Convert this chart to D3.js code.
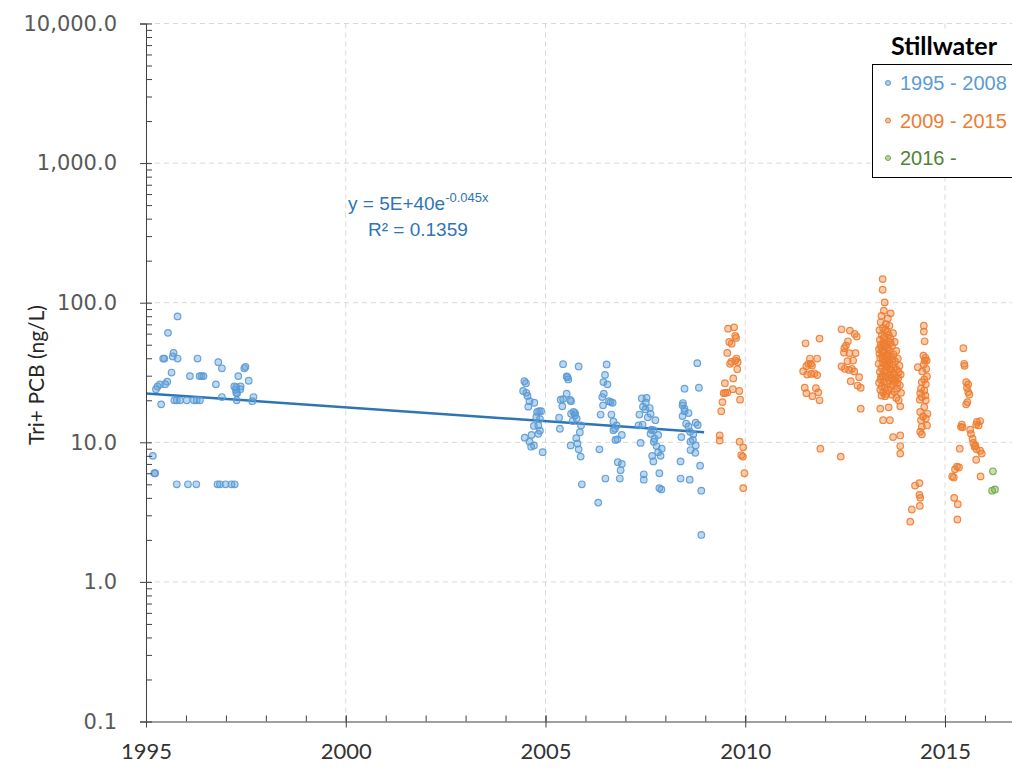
<!DOCTYPE html>
<html>
<head>
<meta charset="utf-8">
<script src="https://cdn.jsdelivr.net/npm/d3@7.9.0/dist/d3.min.js"></script>
<style>
  html, body { margin: 0; padding: 0; background: #fff; }
  svg { display: block; }
</style>
</head>
<body>
<svg id="chart" width="1012" height="774"></svg>
<script>
// Stillwater Tri+ PCB samples, [year, ng/L]
const early = [
  [1995.79,79.8],[1995.55,60.8],[1995.69,43.7],[1995.67,41.2],[1995.79,39.8],[1995.43,39.8],[1995.46,39.8],
  [1996.29,39.8],[1996.81,37.5],[1996.90,33.9],[1997.49,34.7],[1997.46,33.9],[1995.64,31.6],[1996.10,29.8],
  [1996.34,29.8],[1996.39,29.8],[1996.44,29.8],[1997.31,29.8],[1997.57,27.6],[1995.53,27.2],[1995.48,26.1],
  [1995.35,26.0],[1995.29,25.1],[1995.25,24.0],[1996.75,26.0],[1997.21,25.1],[1997.26,24.8],[1997.37,25.1],
  [1997.25,23.8],[1997.36,24.0],[1997.26,22.6],[1997.28,22.5],[1996.90,21.1],[1997.69,21.1],[1995.71,20.0],
  [1995.77,20.0],[1995.85,20.0],[1996.02,20.0],[1996.20,20.0],[1996.27,20.0],[1996.35,20.0],[1997.27,20.0],
  [1997.66,19.7],[1995.38,18.7],[1995.17,8.0],[1995.21,6.0],[1995.23,6.0],
  [1995.77,5.0],[1996.05,5.0],[1996.26,5.0],[1996.79,5.0],[1996.85,5.0],[1996.99,5.0],[1997.14,5.0],[1997.22,5.0],
  // 2004 - 2008
  [2004.47,27.4],[2004.51,26.5],[2004.44,23.3],[2004.52,22.6],[2004.55,21.5],[2004.60,19.7],[2004.72,19.2],
  [2004.57,18.0],[2004.79,16.5],[2004.84,16.7],[2004.89,16.7],[2004.77,15.2],[2004.71,13.1],[2004.86,14.7],
  [2004.82,13.2],[2004.86,12.1],[2004.82,11.5],[2004.48,10.8],[2004.60,10.1],[2004.64,9.3],[2004.71,9.5],
  [2004.93,8.5],[2004.65,11.3],
  [2005.44,36.3],[2005.53,29.6],[2005.57,28.2],[2005.55,29.3],[2005.83,34.9],[2005.53,22.3],[2005.44,20.4],
  [2005.38,20.2],[2005.62,20.1],[2005.64,19.7],[2005.42,18.1],[2005.70,16.5],[2005.74,16.2],[2005.64,16.0],
  [2005.78,14.8],[2005.74,15.6],[2005.68,14.2],[2005.89,13.2],[2005.34,15.0],[2005.36,12.5],[2005.86,11.8],
  [2005.77,10.7],[2005.80,9.8],[2005.63,9.5],[2005.83,8.9],[2005.88,7.9],[2005.91,5.0],
  [2006.53,36.1],[2006.49,30.4],[2006.45,27.0],[2006.55,26.0],[2006.46,22.3],[2006.42,21.1],[2006.59,19.7],
  [2006.63,19.4],[2006.68,19.2],[2006.44,18.4],[2006.38,15.8],[2006.65,15.8],[2006.70,14.1],[2006.78,13.2],
  [2006.74,12.5],[2006.70,12.2],[2006.91,11.3],[2006.80,10.5],[2006.75,10.4],[2006.35,8.9],[2006.81,7.2],
  [2006.91,7.0],[2006.88,6.3],[2006.86,5.5],[2006.50,5.5],[2006.32,3.7],
  [2007.41,20.6],[2007.53,20.8],[2007.44,18.0],[2007.51,19.3],[2007.61,17.6],[2007.50,17.2],[2007.56,15.1],
  [2007.63,16.0],[2007.35,15.8],[2007.75,14.4],[2007.33,13.2],[2007.43,13.4],[2007.65,12.3],[2007.70,12.2],
  [2007.63,11.5],[2007.82,11.3],[2007.73,10.6],[2007.71,10.1],[2007.38,9.9],[2007.78,9.4],[2007.91,9.0],
  [2007.82,8.5],[2007.88,8.0],[2007.67,8.0],[2007.70,7.3],[2007.46,5.9],[2007.46,5.4],[2007.85,6.0],
  [2007.85,4.7],[2007.90,4.6],
  [2008.48,24.2],[2008.44,19.1],[2008.43,18.4],[2008.48,17.4],[2008.48,16.7],[2008.58,16.2],[2008.43,15.4],
  [2008.52,13.6],[2008.58,13.0],[2008.62,11.9],[2008.70,11.4],[2008.76,13.8],[2008.81,13.3],[2008.69,10.4],
  [2008.63,10.1],[2008.76,9.5],[2008.63,8.8],[2008.75,8.4],[2008.40,10.9],[2008.80,36.9],[2008.84,24.6],
  [2008.38,7.3],[2008.87,6.8],[2008.38,5.5],[2008.61,5.4],[2008.90,4.5],[2008.90,2.17]
];

const middle = [
  [2009.57,65.2],[2009.72,66.6],[2009.75,57.8],[2009.77,55.9],[2009.60,52.4],[2009.66,50.9],[2009.55,43.7],
  [2009.78,39.8],[2009.65,37.7],[2009.62,36.5],[2009.75,38.5],[2009.81,37.5],[2009.80,33.4],[2009.70,28.7],
  [2009.49,26.5],[2009.50,22.6],[2009.46,22.5],[2009.55,22.7],[2009.69,24.0],[2009.85,23.3],[2009.87,20.2],
  [2009.43,19.4],[2009.40,16.7],[2009.36,11.2],[2009.36,10.3],[2009.86,10.1],[2009.95,9.2],[2009.90,8.1],
  [2009.94,7.9],[2009.98,6.0],[2009.95,4.7],
  [2011.51,51.2],[2011.86,55.3],[2011.62,39.8],[2011.80,39.8],[2011.58,36.5],[2011.53,35.1],[2011.64,36.5],
  [2011.67,35.5],[2011.45,32.3],[2011.55,30.6],[2011.65,30.9],[2011.73,31.2],[2011.80,30.3],[2011.49,24.6],
  [2011.77,24.4],[2011.53,22.5],[2011.83,22.8],[2011.68,21.4],[2011.86,20.0],[2011.88,9.0],
  [2012.41,64.5],[2012.62,63.1],[2012.74,59.7],[2012.79,57.2],[2012.57,52.9],[2012.52,49.3],[2012.48,47.2],
  [2012.61,43.5],[2012.76,43.5],[2012.47,43.9],[2012.56,38.1],[2012.70,38.5],[2012.41,34.9],[2012.49,33.6],
  [2012.60,33.0],[2012.67,33.6],[2012.73,32.2],[2012.85,29.3],[2012.64,27.4],[2012.81,25.5],[2012.89,24.6],
  [2012.89,17.4],[2012.39,7.9],
  // summer 2013, dense sampling
  [2013.44,147.6],[2013.44,123.8],[2013.49,100.5],[2013.47,87.7],[2013.64,83.9],[2013.41,80.5],[2013.57,77.2],
  [2013.39,72.4],[2013.52,70.1],[2013.61,68.3],[2013.45,66.0],[2013.36,63.5],[2013.55,62.2],[2013.70,60.4],
  [2013.42,58.7],[2013.49,57.1],[2013.63,55.5],[2013.37,54.2],[2013.58,53.0],[2013.74,52.3],[2013.46,51.1],
  [2013.53,49.6],[2013.67,48.8],[2013.40,47.9],[2013.35,46.4],[2013.60,45.9],[2013.78,45.1],[2013.48,44.2],
  [2013.56,43.3],[2013.71,42.7],[2013.43,41.8],[2013.65,41.0],[2013.38,40.2],[2013.82,39.8],[2013.51,39.1],
  [2013.59,38.3],[2013.75,37.9],[2013.45,37.2],[2013.34,36.5],[2013.68,36.0],[2013.86,35.4],[2013.54,34.8],
  [2013.41,34.1],[2013.62,33.6],[2013.79,33.1],[2013.48,32.5],[2013.37,32.0],[2013.57,31.5],[2013.72,31.1],
  [2013.89,30.6],[2013.44,30.1],[2013.52,29.6],[2013.66,29.2],[2013.83,28.8],[2013.39,28.3],[2013.60,27.9],
  [2013.76,27.5],[2013.47,27.1],[2013.35,26.7],[2013.55,26.3],[2013.70,26.0],[2013.87,25.6],[2013.42,25.2],
  [2013.63,24.9],[2013.50,24.5],[2013.80,24.2],[2013.38,23.8],[2013.58,23.5],[2013.73,23.1],[2013.45,22.8],
  [2013.90,22.6],[2013.53,22.2],[2013.67,21.9],[2013.41,21.6],[2013.61,37.0],[2013.50,35.8],[2013.43,44.9],
  [2013.69,39.4],[2013.57,47.5],[2013.36,43.0],[2013.74,34.3],[2013.46,55.8],[2013.64,51.6],[2013.39,50.0],
  [2013.53,41.5],[2013.84,31.8],[2013.77,29.0],[2013.48,48.4],[2013.59,58.9],[2013.66,33.0],[2013.44,39.6],
  [2013.71,28.0],[2013.55,36.3],[2013.81,26.5],[2013.40,29.5],[2013.62,30.4],[2013.51,64.0],[2013.58,42.0],
  [2013.50,21.4],[2013.78,20.8],[2013.84,20.0],[2013.88,18.1],[2013.38,17.4],[2013.59,17.8],[2013.45,14.4],
  [2013.62,14.4],[2013.70,10.9],[2013.88,11.2],[2013.88,9.4],[2013.88,8.3],
  [2014.47,68.5],[2014.47,62.1],[2014.49,52.9],[2014.46,41.8],[2014.51,40.3],[2014.49,38.5],[2014.54,38.5],
  [2014.47,36.1],[2014.32,34.5],[2014.53,33.6],[2014.43,32.2],[2014.55,29.6],[2014.48,28.2],[2014.42,27.0],
  [2014.52,26.0],[2014.40,24.2],[2014.48,23.5],[2014.38,22.5],[2014.51,21.7],[2014.42,21.1],[2014.37,20.2],
  [2014.52,20.0],[2014.48,17.9],[2014.38,16.5],[2014.56,16.0],[2014.45,15.3],[2014.52,14.8],[2014.40,14.4],
  [2014.55,13.2],[2014.42,12.9],[2014.38,11.9],[2014.42,11.4],[2014.36,5.1],[2014.25,4.9],[2014.36,4.2],
  [2014.38,4.0],[2014.17,3.3],[2014.13,2.7],[2014.37,3.5],
  [2015.46,47.2],[2015.48,36.5],[2015.49,35.3],[2015.53,27.0],[2015.58,26.0],[2015.55,24.6],[2015.58,22.9],
  [2015.61,22.0],[2015.56,19.4],[2015.53,18.7],[2015.42,13.4],[2015.40,12.9],[2015.44,12.8],[2015.80,14.0],
  [2015.88,14.2],[2015.84,13.2],[2015.78,13.4],[2015.63,12.3],[2015.65,11.5],[2015.69,10.6],[2015.71,9.9],
  [2015.76,9.5],[2015.74,9.3],[2015.79,8.9],[2015.88,8.7],[2015.92,8.3],[2015.37,9.0],[2015.78,7.5],
  [2015.30,6.7],[2015.35,6.6],[2015.25,6.4],[2015.18,5.7],[2015.22,5.6],[2015.89,5.7],[2015.23,4.0],
  [2015.32,3.6],[2015.31,2.8]
];

const recent = [[2016.20,6.2],[2016.18,4.5],[2016.25,4.6]];

// exponential fit on 1995-2008, straight on the log axis
const trend = [[1995, 22.4], [2008.97, 11.8]];

const seriesNames = ['1995 - 2008', '2009 - 2015', '2016 -'];
const seriesColors = ['#5b9bd5', '#ed7d31', '#70ad47'];
const legendTextColors = ['#5b9bd5', '#ed7d31', '#548235'];

const yTicks = [0.1, 1, 10, 100, 1000, 10000];
const xTicks = [1995, 2000, 2005, 2010, 2015];
const xMinor = d3.range(1996, 2018);
const yMinor = [];
yTicks.slice(0, -1).forEach(t => { for (let k = 2; k <= 9; k++) yMinor.push(t * k); });

const svg = d3.select('#chart');
const x = d3.scaleLinear().domain([1995, 2017]).range([146, 146 + 22 * 39.95]);
const y = d3.scaleLog().domain([0.1, 10000]).range([721.5, 23.5]);

// gridlines
const grid = svg.append('g').attr('stroke', '#d9d9d9').attr('stroke-dasharray', '5,4').attr('stroke-width', 1);
xTicks.slice(1).forEach(t => {
  grid.append('line').attr('x1', x(t)).attr('x2', x(t)).attr('y1', y(0.1)).attr('y2', y(10000));
});
yTicks.slice(1).forEach(t => {
  grid.append('line').attr('x1', x(1995)).attr('x2', 1012).attr('y1', y(t)).attr('y2', y(t));
});

// trendline
svg.append('path')
  .datum(trend)
  .attr('fill', 'none')
  .attr('stroke', '#2e75b6')
  .attr('stroke-width', 2.5)
  .attr('d', d3.line().x(d => x(d[0])).y(d => y(d[1])));

// points
[early, middle, recent].forEach((pts, i) => {
  svg.append('g').selectAll('circle')
    .data(pts)
    .join('circle')
    .attr('cx', d => x(d[0]))
    .attr('cy', d => y(d[1]))
    .attr('r', 3.3)
    .attr('fill', seriesColors[i])
    .attr('fill-opacity', 0.4)
    .attr('stroke', seriesColors[i])
    .attr('stroke-opacity', 0.9)
    .attr('stroke-width', 1.2);
});

// y axis
const yAxis = svg.append('g').attr('transform', `translate(${x(1995)},0)`)
  .call(d3.axisLeft(y).tickValues(yTicks).tickFormat(d3.format(',.1f')).tickSize(6).tickPadding(23));
yAxis.select('.domain').attr('stroke', '#404040');
yAxis.selectAll('.tick line').attr('x2', 6).attr('x1', -6).attr('stroke', '#404040');
yAxis.selectAll('.tick text')
  .attr('font-family', '"DejaVu Sans", Verdana, sans-serif')
  .attr('font-size', 21)
  .attr('fill', '#595959');
svg.append('g').attr('transform', `translate(${x(1995)},0)`)
  .call(d3.axisRight(y).tickValues(yMinor).tickFormat('').tickSize(6))
  .call(g => g.select('.domain').remove())
  .selectAll('.tick line').attr('stroke', '#404040');

// x axis
const xAxis = svg.append('g').attr('transform', `translate(0,${y(0.1)})`)
  .call(d3.axisBottom(x).tickValues(xTicks).tickFormat(d3.format('d')).tickSize(6).tickSizeOuter(0));
xAxis.select('.domain').attr('stroke', '#404040');
xAxis.selectAll('.tick line').attr('y1', -6).attr('y2', 6).attr('stroke', '#404040');
xAxis.selectAll('.tick text')
  .attr('y', 22)
  .attr('font-family', 'Lato, "Open Sans", sans-serif')
  .attr('font-size', 22)
  .attr('fill', '#333');
svg.append('g').attr('transform', `translate(0,${y(0.1)})`)
  .call(d3.axisTop(x).tickValues(xMinor).tickFormat('').tickSize(6))
  .call(g => g.select('.domain').remove())
  .selectAll('.tick line').attr('stroke', '#404040');

// y title
svg.append('text')
  .attr('transform', 'translate(44,375) rotate(-90)')
  .attr('text-anchor', 'middle')
  .attr('font-family', 'Lato, "Open Sans", sans-serif')
  .attr('font-size', 21)
  .attr('fill', '#262626')
  .text('Tri+ PCB (ng/L)');

// trend equation
const eq = svg.append('text')
  .attr('x', 348).attr('y', 210)
  .attr('font-family', '"Liberation Sans", Arial, sans-serif')
  .attr('font-size', 19)
  .attr('fill', '#2e75b6');
eq.append('tspan').text('y = 5E+40e');
eq.append('tspan').attr('dy', -8).attr('font-size', 13).text('-0.045x');
svg.append('text')
  .attr('x', 368).attr('y', 236)
  .attr('font-family', '"Liberation Sans", Arial, sans-serif')
  .attr('font-size', 19)
  .attr('fill', '#2e75b6')
  .text('R² = 0.1359');

// legend
svg.append('rect').attr('x', 872).attr('y', 32).attr('width', 150).attr('height', 32).attr('fill', '#fff');
svg.append('text')
  .attr('x', 944).attr('y', 55)
  .attr('text-anchor', 'middle')
  .attr('font-family', 'Lato, "Open Sans", sans-serif')
  .attr('font-weight', 'bold')
  .attr('font-size', 25)
  .attr('fill', '#000')
  .text('Stillwater');
svg.append('rect')
  .attr('x', 872.5).attr('y', 64.5).attr('width', 200).attr('height', 113)
  .attr('fill', '#fff').attr('stroke', '#000').attr('stroke-width', 1);
const rowY = d3.scalePoint().domain(seriesNames).range([83, 158]);
const legend = svg.append('g').selectAll('g').data(seriesNames).join('g')
  .attr('transform', d => `translate(0,${rowY(d)})`);
legend.append('circle')
  .attr('cx', 888).attr('cy', 0).attr('r', 2.5)
  .attr('fill', (d, i) => seriesColors[i]).attr('fill-opacity', 0.5)
  .attr('stroke', (d, i) => seriesColors[i]).attr('stroke-width', 1);
legend.append('text')
  .attr('x', 900).attr('y', 7)
  .attr('font-family', '"Liberation Sans", Arial, sans-serif')
  .attr('font-size', 20)
  .attr('fill', (d, i) => legendTextColors[i])
  .text(d => d);
</script>
</body>
</html>
